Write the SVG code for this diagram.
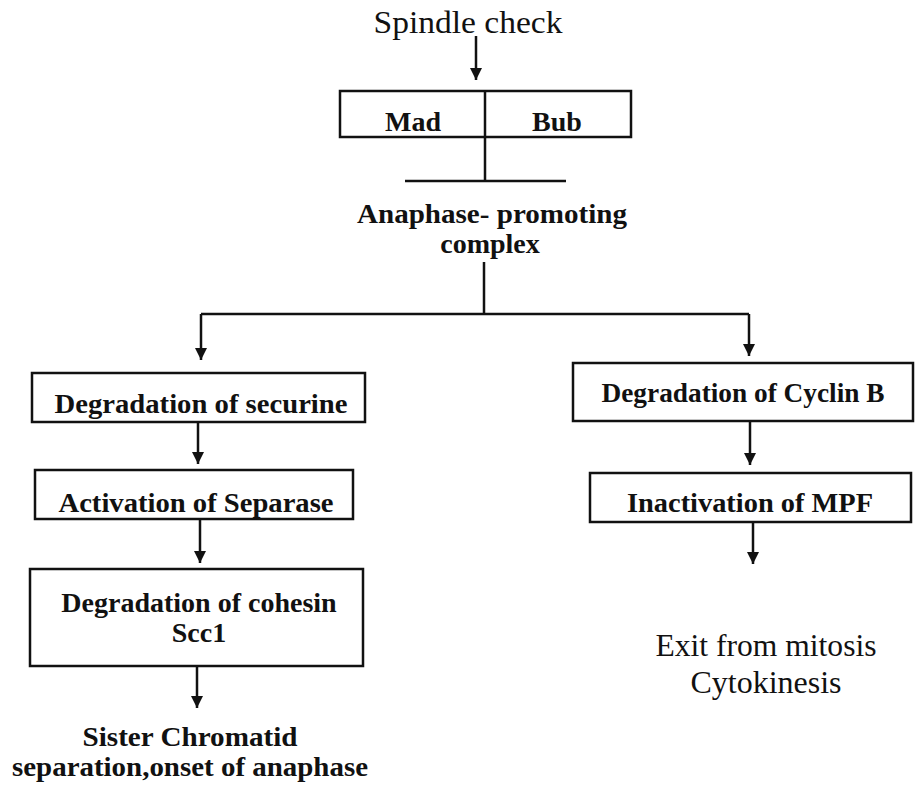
<svg xmlns="http://www.w3.org/2000/svg" width="915" height="792" viewBox="0 0 915 792">
<style>
.box{fill:#fff;stroke:#111;stroke-width:2.5}
.ln{fill:none;stroke:#111;stroke-width:2.5}
.b{font-family:"Liberation Serif","Times New Roman",serif;font-weight:bold;font-size:28px;fill:#111;text-anchor:middle}
.r{font-family:"Liberation Serif","Times New Roman",serif;font-size:32px;fill:#111;text-anchor:middle}
</style>
<defs>
<marker id="ah" markerWidth="12" markerHeight="12" refX="12" refY="6" orient="auto" markerUnits="userSpaceOnUse">
<path d="M0,0 L12,6 L0,12 Z" fill="#111"/>
</marker>
</defs>
<rect width="915" height="792" fill="#fff"/>
<g id="connectors">
<path class="ln" d="M476,36 V80" marker-end="url(#ah)"/>
<path class="ln" d="M485,137 V181 M405,181 H566"/>
<path class="ln" d="M484,262 V314 M201,314 H749"/>
<path class="ln" d="M201,314 V360" marker-end="url(#ah)"/>
<path class="ln" d="M749,314 V356" marker-end="url(#ah)"/>
<path class="ln" d="M198,422 V464" marker-end="url(#ah)"/>
<path class="ln" d="M200,519 V563" marker-end="url(#ah)"/>
<path class="ln" d="M197,666 V708" marker-end="url(#ah)"/>
<path class="ln" d="M750,421 V465" marker-end="url(#ah)"/>
<path class="ln" d="M753,522 V564" marker-end="url(#ah)"/>
</g>
<g id="spindle"><text class="r" x="468" y="33" textLength="189" lengthAdjust="spacingAndGlyphs">Spindle check</text></g>
<g id="madbub">
<rect class="box" x="340" y="91" width="291" height="46"/>
<line class="ln" x1="485" y1="91" x2="485" y2="137"/>
<text class="b" x="413" y="131">Mad</text>
<text class="b" x="557" y="131">Bub</text>
</g>
<g id="apc">
<text class="b" x="492" y="223" textLength="270" lengthAdjust="spacingAndGlyphs">Anaphase- promoting</text>
<text class="b" x="490" y="253">complex</text>
</g>
<g id="securine">
<rect class="box" x="32" y="373" width="333" height="49"/>
<text class="b" x="201" y="413" textLength="293" lengthAdjust="spacingAndGlyphs">Degradation of securine</text>
</g>
<g id="separase">
<rect class="box" x="35" y="470" width="318" height="49"/>
<text class="b" x="196" y="512" textLength="275" lengthAdjust="spacingAndGlyphs">Activation of Separase</text>
</g>
<g id="cohesin">
<rect class="box" x="30" y="569" width="333" height="97"/>
<text class="b" x="199" y="612">Degradation of cohesin</text>
<text class="b" x="199" y="642">Scc1</text>
</g>
<g id="sister">
<text class="b" x="190" y="746" textLength="215" lengthAdjust="spacingAndGlyphs">Sister Chromatid</text>
<text class="b" x="190" y="776" textLength="356" lengthAdjust="spacingAndGlyphs">separation,onset of anaphase</text>
</g>
<g id="cyclin">
<rect class="box" x="573" y="363" width="340" height="58"/>
<text class="b" x="743" y="402" textLength="283" lengthAdjust="spacingAndGlyphs">Degradation of Cyclin B</text>
</g>
<g id="mpf">
<rect class="box" x="590" y="473" width="321" height="49"/>
<text class="b" x="750" y="512" textLength="246" lengthAdjust="spacingAndGlyphs">Inactivation of MPF</text>
</g>
<g id="exit">
<text class="r" x="766" y="656" textLength="221" lengthAdjust="spacingAndGlyphs">Exit from mitosis</text>
<text class="r" x="766" y="693">Cytokinesis</text>
</g>
</svg>
